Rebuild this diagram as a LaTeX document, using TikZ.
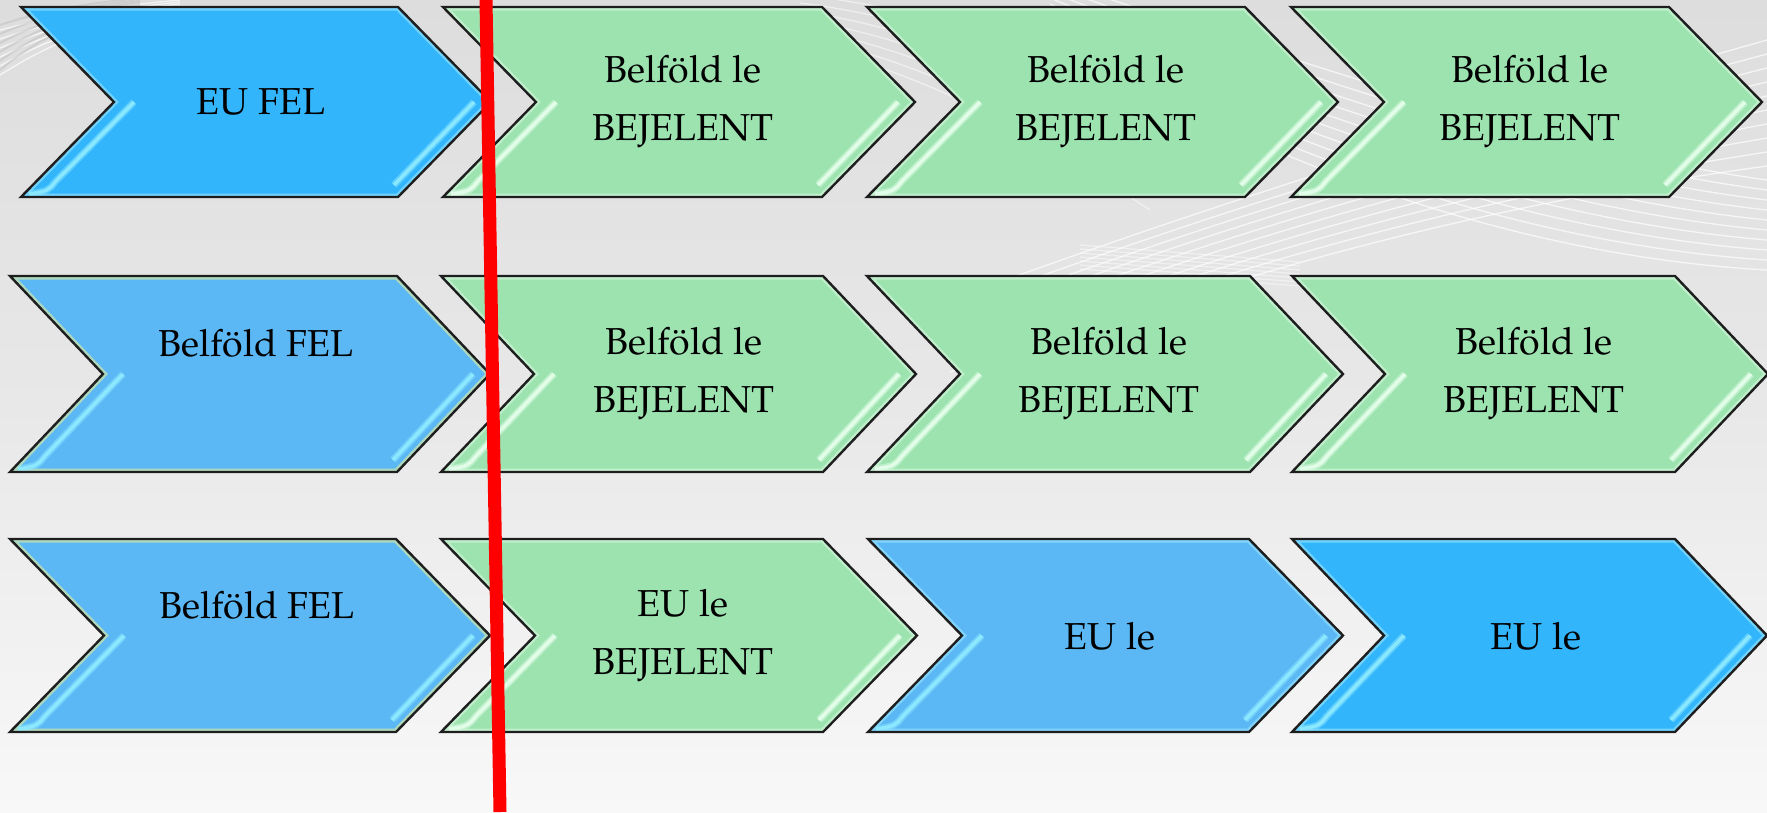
\documentclass[tikz,border=0pt]{standalone}
\usepackage{fontspec}
\setmainfont{TeX Gyre Pagella}
\definecolor{bgtop}{HTML}{DDDDDD}
\definecolor{bgbot}{HTML}{F8F8F8}
\definecolor{bblue}{HTML}{33B5FB}
\definecolor{mblue}{HTML}{5BB8F5}
\definecolor{lgreen}{HTML}{9DE3B0}
\definecolor{cyanglow}{HTML}{9BE6FF}
\definecolor{cyanstrip}{HTML}{8EEBFF}
\definecolor{greenglow}{HTML}{D6F7DE}
\definecolor{greenstrip}{HTML}{E6FFEC}
\definecolor{yellowglow}{HTML}{E4EE9A}
\definecolor{edgecol}{HTML}{1E1E1E}
% #1 L, #2 T, #3 R, #4 B, #5 D, #6 fill, #7 glow, #8 strip
\newcommand\mychev[8]{%
  \pgfmathsetmacro\cM{(#2+#4)/2}%
  \begin{scope}
    \clip (#1,#2) -- (#3,#2) -- (#3+#5,\cM) -- (#3,#4) -- (#1,#4) -- (#1+#5,\cM) -- cycle;
    \fill[#6] (#1,#2) rectangle (#3+#5,#4);
    \draw[#7, line width=7, opacity=.6] (#1,#2) -- (#3,#2) -- (#3+#5,\cM) -- (#3,#4) -- (#1,#4) -- (#1+#5,\cM) -- cycle;
    \draw[#8, line width=7, opacity=.45] (#1+#5+20,\cM) -- (#1+35,#4-16) .. controls (#1+27,#4-6) .. (#1+8,#4-3);
    \draw[#8, line width=3.5, opacity=.9] (#1+#5+20,\cM) -- (#1+35,#4-16) .. controls (#1+27,#4-6) .. (#1+8,#4-3);
    \draw[#8, line width=7, opacity=.45] (#3+#5-17,\cM) -- (#3-4,#4-12);
    \draw[#8, line width=3.5, opacity=.9] (#3+#5-17,\cM) -- (#3-4,#4-12);
  \end{scope}
  \draw[edgecol, line width=2.4, line join=miter] (#1,#2) -- (#3,#2) -- (#3+#5,\cM) -- (#3,#4) -- (#1,#4) -- (#1+#5,\cM) -- cycle;
}
\tikzset{
  lbl/.style={inner sep=0pt, align=center, text=black, font=\fontsize{37.5}{58}\selectfont},
  swoosh/.style={white, line width=1.3, opacity=.7},
  darkswoosh/.style={black!25, line width=2, opacity=.5}
}
\begin{document}
\begin{tikzpicture}[x=1pt,y=-1pt]
\useasboundingbox (0,0) rectangle (1767,812);
\shade[top color=bgtop, bottom color=bgbot, middle color=black!9] (0,0) rectangle (1767,812);
% background swooshes
\begin{scope}
  \clip (0,0) rectangle (1767,812);
  \foreach \r in {0,...,9}{
    \draw[swoosh] (950,{300+\r*9}) .. controls (1250,{190+\r*8}) and (1520,{110+\r*10}) .. (1767,{40+\r*14});
    \draw[swoosh] (1050,{-20+\r*6}) .. controls (1300,{60+\r*14}) and (1550,{150+\r*12}) .. (1767,{180+\r*10});
  }
  \foreach \r in {0,...,5}{
    \draw[darkswoosh] (0,{25+\r*9}) .. controls (30,{15+\r*6}) and (70,{5+\r*3}) .. (140,{-2+\r*2});
    \draw[swoosh] (0,{30+\r*9}) .. controls (40,{20+\r*6}) and (90,{8+\r*3}) .. (180,{0+\r*2});
  }
  \foreach \r in {0,...,6}{
    \draw[swoosh, opacity=.5] (800,{-5+\r*8}) .. controls (950,{10+\r*12}) and (1050,{60+\r*14}) .. (1150,{120+\r*15});
    \draw[swoosh, opacity=.45] (1080,{245+\r*4}) -- (1300,{262+\r*4});
  }
\end{scope}
% row 1
\mychev{21}{7}{398}{197}{93}{bblue}{cyanglow}{cyanstrip}
\mychev{443}{7}{822}{197}{93}{lgreen}{greenglow}{greenstrip}
\mychev{867}{7}{1245}{197}{93}{lgreen}{greenglow}{greenstrip}
\mychev{1291}{7}{1669}{197}{93}{lgreen}{greenglow}{greenstrip}
% row 2
\mychev{10}{276}{397}{472}{93}{mblue}{yellowglow}{cyanstrip}
\mychev{441}{276}{823}{472}{93}{lgreen}{greenglow}{greenstrip}
\mychev{867}{276}{1250}{472}{93}{lgreen}{greenglow}{greenstrip}
\mychev{1292}{276}{1675}{472}{93}{lgreen}{greenglow}{greenstrip}
% row 3
\mychev{10}{539}{396}{732}{94}{mblue}{yellowglow}{cyanstrip}
\mychev{441}{539}{823}{732}{94}{lgreen}{greenglow}{greenstrip}
\mychev{868}{539}{1249}{732}{94}{mblue}{cyanglow}{cyanstrip}
\mychev{1292}{539}{1675}{732}{92}{bblue}{cyanglow}{cyanstrip}
% labels
\node[lbl] (t11) at (261,102) {EU FEL};
\node[lbl] (t12) at (683,102) {Belföld le\\BEJELENT};
\node[lbl] (t13) at (1106,102) {Belföld le\\BEJELENT};
\node[lbl] (t14) at (1530,102) {Belföld le\\BEJELENT};
\node[lbl, anchor=base] (t21) at (256,356) {Belföld FEL};
\node[lbl] (t22) at (684,374) {Belföld le\\BEJELENT};
\node[lbl] (t23) at (1109,374) {Belföld le\\BEJELENT};
\node[lbl] (t24) at (1534,374) {Belföld le\\BEJELENT};
\node[lbl, anchor=base] (t31) at (257,618) {Belföld FEL};
\node[lbl] (t32) at (683,636) {EU le\\BEJELENT};
\node[lbl] (t33) at (1110,636) {EU le};
\node[lbl] (t34) at (1536,636) {EU le};
% red line
\coordinate (rtop) at (486,0);
\coordinate (rbot) at (500,812);
\draw[red, line width=13] (rtop) -- (rbot);
\end{tikzpicture}
\end{document}
